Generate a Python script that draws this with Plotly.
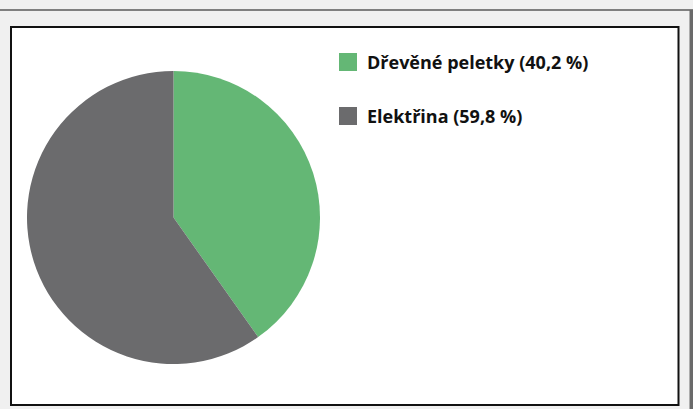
import plotly.graph_objects as go

labels = ["Dřevěné peletky", "Elektřina"]
values = [40.2, 59.8]
colors = ["#64b775", "#6b6b6d"]

W, H = 693, 409

def px(x):
    return x / W

def py(y):
    return 1 - y / H

fig = go.Figure()
fig.add_trace(go.Pie(
    labels=labels, values=values, sort=False, direction="clockwise", rotation=0,
    marker=dict(colors=colors, line=dict(width=0)),
    textinfo="none", hoverinfo="label+percent", showlegend=False,
    domain=dict(x=[px(27), px(320)], y=[py(364), py(71)]),
))

shapes = [
    # top separator line
    dict(type="line", xref="paper", yref="paper", x0=0, x1=1, y0=py(10), y1=py(10),
         line=dict(color="#7f7f7f", width=2), layer="below"),
    # chart box
    dict(type="rect", xref="paper", yref="paper", x0=px(11), x1=px(678.5), y0=py(405), y1=py(27),
         fillcolor="white", line=dict(color="#111111", width=2), layer="below"),
    # right dark strip
    dict(type="rect", xref="paper", yref="paper", x0=px(689.5), x1=1, y0=0, y1=py(10),
         fillcolor="#6a6a6a", line=dict(width=0), layer="below"),
]
annotations = []
row_y = [62, 116]
for i, (lab, val) in enumerate(zip(labels, values)):
    yc = row_y[i]
    shapes.append(dict(type="rect", xref="paper", yref="paper",
                       x0=px(339), x1=px(357), y0=py(yc + 9), y1=py(yc - 9),
                       fillcolor=colors[i], line=dict(width=0)))
    txt = f"{lab} ({val:.1f} %)".replace(".", ",")
    annotations.append(dict(text=f"<b>{txt}</b>", xref="paper", yref="paper",
                            x=px(365), y=py(yc), xanchor="left", yanchor="middle",
                            showarrow=False,
                            font=dict(family="Open Sans", size=18, color="#111111")))

fig.update_layout(
    width=W, height=H, margin=dict(l=0, r=0, t=0, b=0),
    paper_bgcolor="#f0f0f0", plot_bgcolor="#f0f0f0",
    shapes=shapes, annotations=annotations, showlegend=False,
)
fig.write_html("out.html", config={"displayModeBar": False},
               post_script="document.body.style.margin='0';document.body.style.overflow='hidden';")
